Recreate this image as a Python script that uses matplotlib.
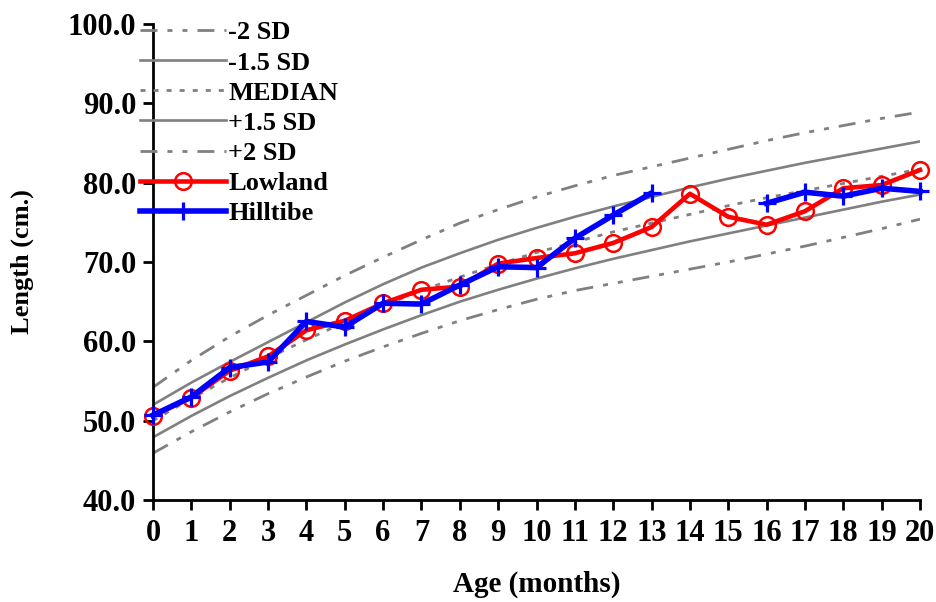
import numpy as np
import matplotlib
matplotlib.use("Agg")
import matplotlib.pyplot as plt

plt.rcParams['font.family'] = ['Liberation Serif', 'DejaVu Serif']
plt.rcParams['font.weight'] = 'bold'

# Age in months
months = list(range(0, 21))

# Reference growth curves (cm)
sd_minus2 = [45.9, 48.6, 51.1, 53.4, 55.5, 57.5, 59.3, 61.0, 62.6, 64.0, 65.3,
             66.4, 67.3, 68.2, 69.1, 70.0, 71.0, 72.0, 73.1, 74.2, 75.4]
sd_minus15 = [47.9, 50.6, 53.1, 55.4, 57.6, 59.6, 61.5, 63.3, 65.0, 66.5, 67.9,
              69.2, 70.4, 71.5, 72.6, 73.6, 74.6, 75.6, 76.6, 77.6, 78.5]
median = [50.0, 52.8, 55.4, 57.9, 60.2, 62.4, 64.5, 66.4, 68.1, 69.7, 71.2,
          72.5, 73.8, 74.9, 76.0, 77.1, 78.1, 79.0, 79.9, 80.8, 81.7]
sd_plus15 = [52.0, 54.8, 57.4, 59.9, 62.4, 64.9, 67.2, 69.3, 71.1, 72.8, 74.3,
             75.7, 77.0, 78.2, 79.4, 80.5, 81.5, 82.5, 83.4, 84.3, 85.2]
sd_plus2 = [54.2, 57.6, 60.6, 63.3, 65.8, 68.3, 70.6, 72.8, 74.9, 76.6, 78.2,
            79.6, 80.9, 82.0, 83.1, 84.2, 85.3, 86.3, 87.2, 88.1, 88.9]

# Mean length by group (cm); Hilltibe has no data at months 14-15
lowland = [50.6, 52.9, 56.3, 58.1, 61.4, 62.6, 64.8, 66.5, 66.9, 69.8, 70.5,
           71.1, 72.4, 74.4, 78.6, 75.7, 74.7, 76.4, 79.3, 79.7, 81.6]
hilltibe = [50.7, 53.0, 56.7, 57.4, 62.5, 61.8, 64.8, 64.7, 67.1, 69.4, 69.3,
            73.0, 75.9, 78.7, np.nan, np.nan, 77.4, 78.8, 78.3, 79.3, 78.9]

x_ticks = months
y_ticks = [40.0, 50.0, 60.0, 70.0, 80.0, 90.0, 100.0]

GRAY = '#808080'
dash_dot_dot = (0, (6.1, 3.6, 1.8, 3.6, 1.8, 3.6))
short_dash = (0, (1.8, 2.9))

fig = plt.figure(figsize=(9.36, 6.02), dpi=100)
ax = fig.add_axes([153 / 936, 1 - 500 / 602, (920 - 153) / 936, (500 - 24) / 602])

ax.plot(months, sd_minus2, color=GRAY, lw=2.0, linestyle=dash_dot_dot, label='-2 SD')
ax.plot(months, sd_minus15, color=GRAY, lw=1.9, label='-1.5 SD')
ax.plot(months, median, color=GRAY, lw=2.0, linestyle=short_dash, label='MEDIAN')
ax.plot(months, sd_plus15, color=GRAY, lw=1.9, label='+1.5 SD')
ax.plot(months, sd_plus2, color=GRAY, lw=2.0, linestyle=dash_dot_dot, label='+2 SD')

ax.plot(months, lowland, color='#ff0000', lw=3.3, marker='o', ms=12,
        mfc='none', mec='#ff0000', mew=1.8, label='Lowland', clip_on=False, zorder=5)
ax.plot(months, hilltibe, color='#0000ff', lw=4.0, marker='+', ms=13,
        mew=2.3, label='Hilltibe', clip_on=False, zorder=6)

ax.set_xlim(0, 20)
ax.set_ylim(40, 100)
ax.set_xticks(x_ticks)
ax.set_yticks(y_ticks)
ax.set_yticklabels([f'{v:.1f}' for v in y_ticks])

for side in ('top', 'right'):
    ax.spines[side].set_visible(False)
for side in ('left', 'bottom'):
    ax.spines[side].set_linewidth(2.0)
ax.tick_params(axis='both', direction='out', length=7, width=2.0,
               labelsize=22, pad=5)
ax.tick_params(axis='x', pad=7)
for lab in ax.get_xticklabels() + ax.get_yticklabels():
    lab.set_fontweight('bold')

ax.set_xlabel('Age (months)', fontsize=21, fontweight='bold', labelpad=16)
ax.set_ylabel('Length (cm.)', fontsize=19, fontweight='bold', labelpad=24)

leg = ax.legend(loc='upper left', bbox_to_anchor=(140 / 936, 1 - 21 / 602),
                bbox_transform=fig.transFigure, frameon=False,
                prop={'family': 'Liberation Serif', 'weight': 'bold', 'size': 19},
                handlelength=3.25, handletextpad=0.1, labelspacing=0.25,
                borderaxespad=0, borderpad=0)

fig.savefig('out.png', dpi=100)
